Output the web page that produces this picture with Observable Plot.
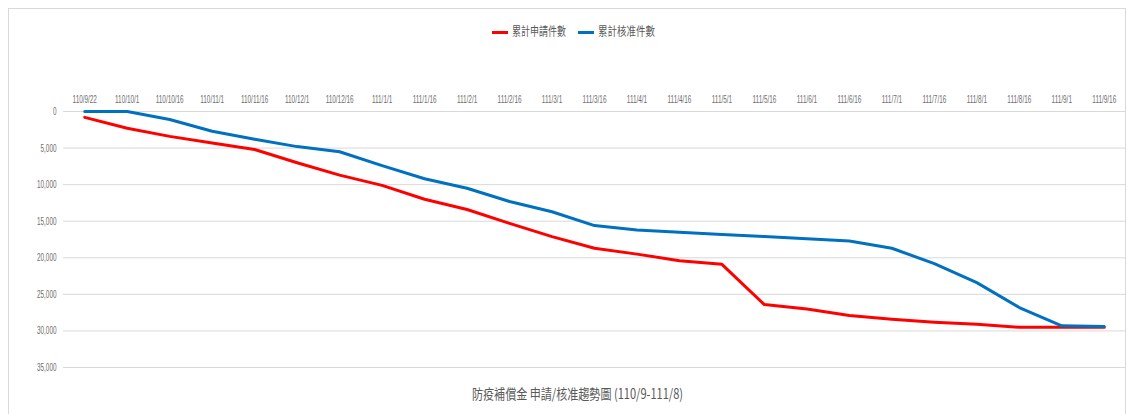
<!DOCTYPE html>
<html><head><meta charset="utf-8">
<script src="https://cdn.jsdelivr.net/npm/d3@7"></script>
<script src="https://cdn.jsdelivr.net/npm/@observablehq/plot@0.6"></script>
<style>
body{margin:0;background:#fff;font-family:"Noto Sans CJK TC","Liberation Sans",sans-serif;}
#wrap{position:relative;width:1132px;height:414px;overflow:hidden;}
#frame{position:absolute;left:8px;top:8px;width:1118px;height:420px;border:1px solid #d9d9d9;box-sizing:border-box;}
.sw{position:absolute;height:3px;width:16px;top:31px;}
.lt{position:absolute;top:23px;font-size:12px;line-height:16px;color:#595959;white-space:nowrap;transform-origin:0 50%;}
#chart{position:absolute;left:0;top:70px;}
#title{position:absolute;top:384px;left:472px;font-size:14px;line-height:18px;color:#595959;white-space:nowrap;transform-origin:0 50%;}
</style></head>
<body>
<div id="wrap">
<div id="frame"></div>
<div id="legend"></div>
<div id="chart"></div>
<div id="title"></div>
</div>
<script>
const dates = ["110/9/22","110/10/1","110/10/16","110/11/1","110/11/16","110/12/1","110/12/16","111/1/1","111/1/16","111/2/1","111/2/16","111/3/1","111/3/16","111/4/1","111/4/16","111/5/1","111/5/16","111/6/1","111/6/16","111/7/1","111/7/16","111/8/1","111/8/16","111/9/1","111/9/16"];
const redValues = [800,2300,3400,4300,5200,7000,8700,10100,12000,13400,15300,17100,18700,19500,20400,20900,26400,27000,27900,28400,28800,29100,29500,29500,29500];
const blueValues = [0,0,1100,2700,3800,4800,5500,7400,9200,10500,12300,13700,15600,16200,16500,16800,17100,17400,17700,18700,20800,23400,26800,29300,29400];
const seriesNames = ["累計申請件數","累計核准件數"];
const seriesColors = ["#ff0000","#0070c0"];
const yTicks = [0,5000,10000,15000,20000,25000,30000,35000];
const titleText = "防疫補償金 申請/核准趨勢圖 (110/9-111/8)";

const data = [];
dates.forEach((d,i)=>{
  data.push({date:d, value:redValues[i], series:seriesNames[0]});
  data.push({date:d, value:blueValues[i], series:seriesNames[1]});
});

const plot = Plot.plot({
  width:1132, height:310,
  marginLeft:63, marginRight:7, marginTop:41, marginBottom:13,
  style:{fontFamily:"'Liberation Sans',sans-serif", fontSize:"11px", color:"#6e6e6e", background:"transparent"},
  x:{type:"point", domain:dates, padding:0.5, round:false, axis:"top", tickSize:0, tickPadding:9, label:null},
  y:{domain:[0,35000], reverse:true, ticks:yTicks, tickFormat:d=>d3.format(",")(d), tickSize:0, tickPadding:7, label:null},
  color:{domain:seriesNames, range:seriesColors},
  marks:[
    Plot.gridY(yTicks,{stroke:"#d9d9d9", strokeOpacity:1}),
    Plot.lineY(data,{x:"date", y:"value", stroke:"series", strokeWidth:3, strokeLinejoin:"round", strokeLinecap:"round"})
  ]
});
document.getElementById("chart").appendChild(plot);
plot.querySelectorAll('g[aria-label="x-axis tick label"] text, g[aria-label="y-axis tick label"] text').forEach(t=>{
  t.setAttribute("transform",(t.getAttribute("transform")||"")+" scale(0.58,1)");
});

// legend
const legend = document.getElementById("legend");
const swLeft=[492,578], txLeft=[512,598], txWidth=[54,57];
seriesNames.forEach((n,i)=>{
  const sw=document.createElement("div"); sw.className="sw";
  sw.style.left=swLeft[i]+"px"; sw.style.background=seriesColors[i];
  legend.appendChild(sw);
  const t=document.createElement("div"); t.className="lt"; t.textContent=n;
  t.style.left=txLeft[i]+"px";
  legend.appendChild(t);
  const w=t.getBoundingClientRect().width;
  t.style.transform=`scaleX(${txWidth[i]/w})`;
});
const title=document.getElementById("title");
title.textContent = titleText;
const tw=title.getBoundingClientRect().width;
title.style.transform=`scaleX(${211/tw})`;
</script>
</body></html>
